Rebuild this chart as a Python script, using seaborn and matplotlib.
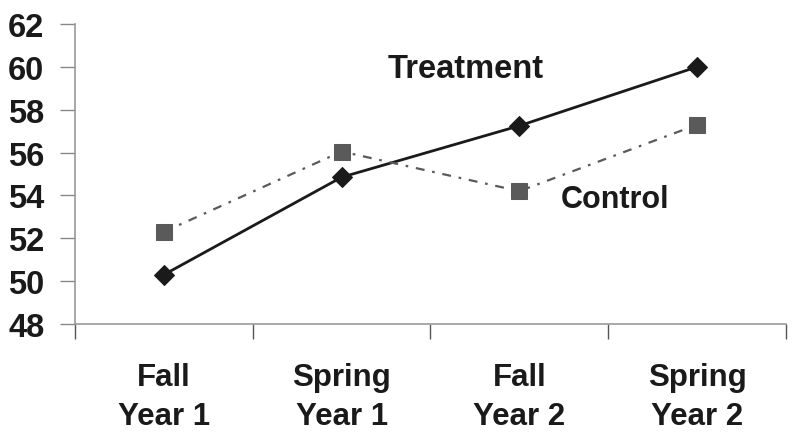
import matplotlib
matplotlib.use("Agg")
import matplotlib.pyplot as plt
import seaborn as sns
import pandas as pd

categories = ["Fall\nYear 1", "Spring\nYear 1", "Fall\nYear 2", "Spring\nYear 2"]
treatment = [50.3, 54.85, 57.25, 60.0]
control = [52.3, 56.05, 54.2, 57.3]
yticks = [48, 50, 52, 54, 56, 58, 60, 62]

sns.set_theme(style="white")
plt.rcParams['font.family'] = ['Liberation Sans', 'DejaVu Sans']

df = pd.DataFrame({
    "pos": list(range(len(categories))) * 2,
    "score": treatment + control,
    "group": ["Treatment"] * 4 + ["Control"] * 4,
})

FS = 23.5
fig = plt.figure(figsize=(7.94, 4.39), dpi=100)
ax = fig.add_axes([75/794, 1 - 325/439, (786 - 75)/794, 300/439])

sns.lineplot(data=df[df.group == "Treatment"], x="pos", y="score", ax=ax,
             color="#1a1a1a", linewidth=2.0, marker="D", markersize=10.5,
             markeredgecolor="#1a1a1a", legend=False)
sns.lineplot(data=df[df.group == "Control"], x="pos", y="score", ax=ax,
             color="#5a5a5a", linewidth=1.6, marker="s", markersize=11,
             markeredgecolor="#5a5a5a", legend=False)
ax.lines[-1].set_linestyle((0, (4, 3.5, 1.2, 3.5)))

ax.set_xlim(-0.5, 3.5)
ax.set_ylim(48, 62)
ax.set_yticks(yticks)
ax.set_yticklabels([str(v) for v in yticks], fontsize=FS, fontweight="bold", color="#1a1a1a")
ax.set_xticks([-0.5, 0.5, 1.5, 2.5, 3.5])
ax.set_xticklabels([])
ax.set_xticks(range(len(categories)), minor=True)
ax.set_xticklabels(categories, minor=True, fontsize=22.5, fontweight="bold", color="#1a1a1a",
                   linespacing=1.4)
ax.tick_params(axis="x", which="major", direction="out", length=11, width=1.0,
               color="#555555", bottom=True)
ax.tick_params(axis="x", which="minor", length=0, pad=27.5)
ax.tick_params(axis="y", which="major", direction="out", length=11, width=1.0,
               color="#888888", left=True, pad=11)
ax.set_xlabel("")
ax.set_ylabel("")

for s in ["top", "right"]:
    ax.spines[s].set_visible(False)
for s in ["left", "bottom"]:
    ax.spines[s].set_color("#999999")
    ax.spines[s].set_linewidth(1.2)

ax.text(1.26, 59.9, "Treatment", fontsize=FS, fontweight="bold", color="#1a1a1a",
        ha="left", va="center")
ax.text(2.23, 53.83, "Control", fontsize=22, fontweight="bold", color="#1a1a1a",
        ha="left", va="center")

fig.savefig("out.png", dpi=100)
